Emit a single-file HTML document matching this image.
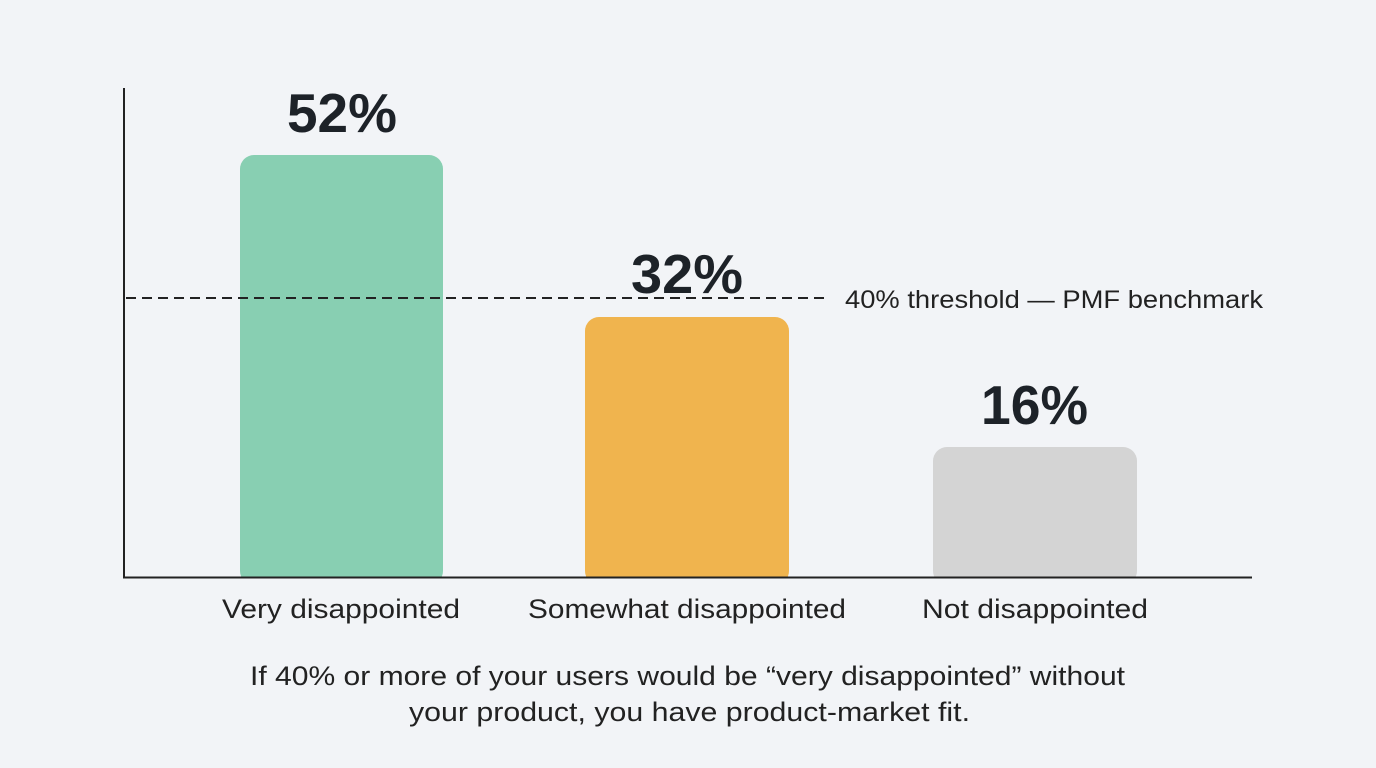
<!DOCTYPE html>
<html><head><meta charset="utf-8"><style>
body{margin:0;background:#f2f4f7;}
svg{display:block}
</style></head><body>
<svg width="1376" height="768" viewBox="0 0 1376 768" xmlns="http://www.w3.org/2000/svg" font-family="Liberation Sans, Arial, sans-serif">
<rect width="1376" height="768" fill="#f2f4f7"/>
<rect x="240" y="155" width="203" height="430" rx="14" fill="#88cfb2"/>
<rect x="585" y="317" width="204" height="268" rx="14" fill="#f0b44e"/>
<rect x="933" y="447" width="204" height="138" rx="14" fill="#d4d4d4"/>
<rect x="120" y="578" width="1140" height="20" fill="#f2f4f7"/>
<line x1="124" y1="88" x2="124" y2="578" stroke="#222" stroke-width="2"/>
<line x1="123" y1="577.5" x2="1252" y2="577.5" stroke="#222" stroke-width="2"/>
<line x1="126" y1="298" x2="828" y2="298" stroke="#222" stroke-width="2" stroke-dasharray="10,6"/>
<text x="845" y="308" font-size="25" fill="#222" textLength="418" lengthAdjust="spacingAndGlyphs">40% threshold — PMF benchmark</text>
<g font-weight="bold" font-size="55" fill="#1d2228">
<text x="287" y="132" textLength="110" lengthAdjust="spacingAndGlyphs">52%</text>
<text x="631" y="293" textLength="112" lengthAdjust="spacingAndGlyphs">32%</text>
<text x="981" y="424" textLength="107" lengthAdjust="spacingAndGlyphs">16%</text>
</g>
<g font-size="27" fill="#222">
<text x="222" y="618" textLength="238" lengthAdjust="spacingAndGlyphs">Very disappointed</text>
<text x="528" y="618" textLength="318" lengthAdjust="spacingAndGlyphs">Somewhat disappointed</text>
<text x="922" y="618" textLength="226" lengthAdjust="spacingAndGlyphs">Not disappointed</text>
<text x="250" y="685" textLength="875" lengthAdjust="spacingAndGlyphs">If 40% or more of your users would be “very disappointed” without</text>
<text x="409" y="721" textLength="561" lengthAdjust="spacingAndGlyphs">your product, you have product-market fit.</text>
</g>
</svg>
</body></html>
